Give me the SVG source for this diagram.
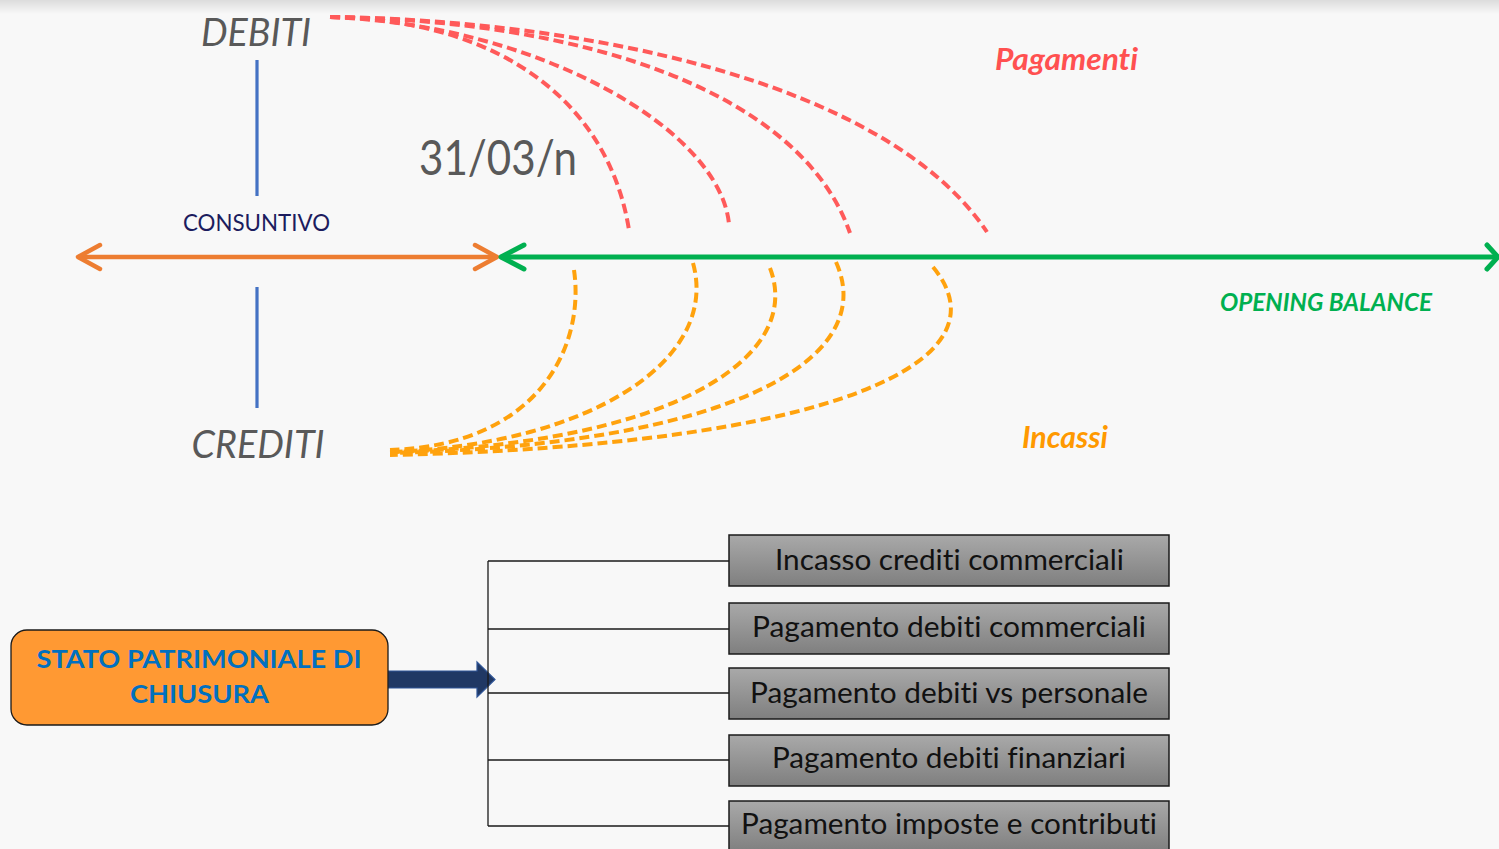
<svg xmlns="http://www.w3.org/2000/svg" width="1499" height="849" viewBox="0 0 1499 849">
  <defs>
    <linearGradient id="topShade" x1="0" y1="0" x2="0" y2="1">
      <stop offset="0" stop-color="#dcdcdc"/>
      <stop offset="1" stop-color="#f8f8f8"/>
    </linearGradient>
    <linearGradient id="grayBox" x1="0" y1="0" x2="0" y2="1">
      <stop offset="0" stop-color="#a9a9a9"/>
      <stop offset="1" stop-color="#7f7f7f"/>
    </linearGradient>
    <style>
      .lbl { font-family: Lato, "Open Sans", "Liberation Sans", sans-serif; font-variant-ligatures: none; font-feature-settings: "liga" 0, "clig" 0; }
      .big { font-style: italic; fill: #595959; font-size: 39px; }
      .red { stroke: #ff5a5a; stroke-width: 4; fill: none; stroke-dasharray: 10 5; }
      .org { stroke: #ffa20d; stroke-width: 4; fill: none; stroke-dasharray: 10 5; }
      .vline { stroke: #4472c4; stroke-width: 3.2; }
      .tree { stroke: #1a1a1a; stroke-width: 1.3; fill: none; }
      .gbox { fill: url(#grayBox); stroke: #1a1a1a; stroke-width: 1.5; }
      .gtxt { font-size: 28px; fill: #111111; text-anchor: middle; }
    </style>
  </defs>

  <rect x="0" y="0" width="1499" height="849" fill="#f8f8f8"/>
  <rect x="0" y="0" width="1499" height="14" fill="url(#topShade)"/>

  <g id="connectors">
    <!-- blue vertical lines -->
    <line class="vline" x1="257" y1="60" x2="257" y2="196"/>
    <line class="vline" x1="257" y1="287" x2="257" y2="408"/>

    <!-- orange timeline arrow (consuntivo) -->
    <g stroke="#ed7d31" stroke-width="4.5" stroke-linecap="round" stroke-linejoin="round" fill="none">
      <line x1="79" y1="257" x2="495" y2="257"/>
      <polyline points="100,245 78,257 100,269"/>
      <polyline points="475,245 497,257 475,269"/>
    </g>

    <!-- green timeline arrow (opening balance) -->
    <g stroke="#00b050" stroke-width="5" stroke-linecap="round" stroke-linejoin="round" fill="none">
      <line x1="502" y1="257" x2="1497" y2="257"/>
      <polyline points="524,245 501,257 524,269"/>
      <polyline points="1487,245 1498,257 1487,269"/>
    </g>

    <!-- red dashed payment curves -->
    <path class="red" d="M330,17 C510,20 610,110 629,230"/>
    <path class="red" d="M330,17 C540,25 720,130 729,224"/>
    <path class="red" d="M330,17 C580,20 800,90 850,233"/>
    <path class="red" d="M330,17 C580,20 885,80 987,232"/>

    <!-- orange dashed collection curves -->
    <path class="org" d="M574,270 C585,345 540,445 390,450"/>
    <path class="org" d="M693,263 C720,360 590,445 390,452"/>
    <path class="org" d="M770,268 C805,360 665,445 390,452"/>
    <path class="org" d="M836,262 C880,360 730,445 390,453"/>
    <path class="org" d="M933,267 C1010,360 840,445 390,455"/>

    <!-- block arrow -->
    <path d="M388,671 L477,671 L477,662 L495,679.5 L477,697 L477,688 L388,688 Z" fill="#203864" stroke="#2f5597" stroke-width="1.2"/>

    <!-- tree connector -->
    <line class="tree" x1="488" y1="561" x2="488" y2="826"/>
    <line class="tree" x1="488" y1="561" x2="729" y2="561"/>
    <line class="tree" x1="488" y1="629" x2="729" y2="629"/>
    <line class="tree" x1="488" y1="693" x2="729" y2="693"/>
    <line class="tree" x1="488" y1="760" x2="729" y2="760"/>
    <line class="tree" x1="488" y1="826" x2="729" y2="826"/>
  </g>

  <g id="debiti">
    <text class="lbl big" x="256" y="46" text-anchor="middle" textLength="110" lengthAdjust="spacingAndGlyphs">DEBITI</text>
  </g>
  <g id="crediti">
    <text class="lbl big" x="258" y="458" text-anchor="middle" textLength="133" lengthAdjust="spacingAndGlyphs">CREDITI</text>
  </g>
  <g id="consuntivo">
    <text class="lbl" x="256.5" y="231" text-anchor="middle" font-size="24" fill="#1c1c5e" textLength="147" lengthAdjust="spacingAndGlyphs">CONSUNTIVO</text>
  </g>
  <g id="data">
    <text class="lbl" x="498" y="175" text-anchor="middle" font-size="48" fill="#595959" textLength="158" lengthAdjust="spacingAndGlyphs">31/03/n</text>
  </g>
  <g id="pagamenti">
    <text class="lbl" x="1066.5" y="70" text-anchor="middle" font-size="30" font-weight="bold" font-style="italic" fill="#ff5050" textLength="143" lengthAdjust="spacingAndGlyphs">Pagamenti</text>
  </g>
  <g id="opening-balance">
    <text class="lbl" x="1326" y="311" text-anchor="middle" font-size="25" font-weight="bold" font-style="italic" fill="#00b050" textLength="212" lengthAdjust="spacingAndGlyphs">OPENING BALANCE</text>
  </g>
  <g id="incassi">
    <text class="lbl" x="1065" y="448" text-anchor="middle" font-size="30" font-weight="bold" font-style="italic" fill="#ff9900" textLength="86" lengthAdjust="spacingAndGlyphs">Incassi</text>
  </g>

  <g id="stato-patrimoniale">
    <rect x="11" y="630" width="377" height="95" rx="16" ry="16" fill="#ff9933" stroke="#1a1a1a" stroke-width="1.3"/>
    <text class="lbl" x="199" y="668" text-anchor="middle" font-size="25" font-weight="bold" fill="#0070c0" textLength="325" lengthAdjust="spacingAndGlyphs">STATO PATRIMONIALE DI</text>
    <text class="lbl" x="199.5" y="703" text-anchor="middle" font-size="25" font-weight="bold" fill="#0070c0" textLength="139" lengthAdjust="spacingAndGlyphs">CHIUSURA</text>
  </g>

  <g id="box-incasso-crediti">
    <rect class="gbox" x="729" y="535" width="440" height="51"/>
    <text class="lbl gtxt" x="949.5" y="570" textLength="349" lengthAdjust="spacingAndGlyphs">Incasso crediti commerciali</text>
  </g>
  <g id="box-debiti-commerciali">
    <rect class="gbox" x="729" y="603" width="440" height="51"/>
    <text class="lbl gtxt" x="949" y="637" textLength="394" lengthAdjust="spacingAndGlyphs">Pagamento debiti commerciali</text>
  </g>
  <g id="box-debiti-personale">
    <rect class="gbox" x="729" y="668" width="440" height="51"/>
    <text class="lbl gtxt" x="949" y="703" textLength="398" lengthAdjust="spacingAndGlyphs">Pagamento debiti vs personale</text>
  </g>
  <g id="box-debiti-finanziari">
    <rect class="gbox" x="729" y="735" width="440" height="51"/>
    <text class="lbl gtxt" x="949" y="768" textLength="354" lengthAdjust="spacingAndGlyphs">Pagamento debiti finanziari</text>
  </g>
  <g id="box-imposte-contributi">
    <rect class="gbox" x="729" y="801" width="440" height="51"/>
    <text class="lbl gtxt" x="949" y="834" textLength="416" lengthAdjust="spacingAndGlyphs">Pagamento imposte e contributi</text>
  </g>
</svg>
